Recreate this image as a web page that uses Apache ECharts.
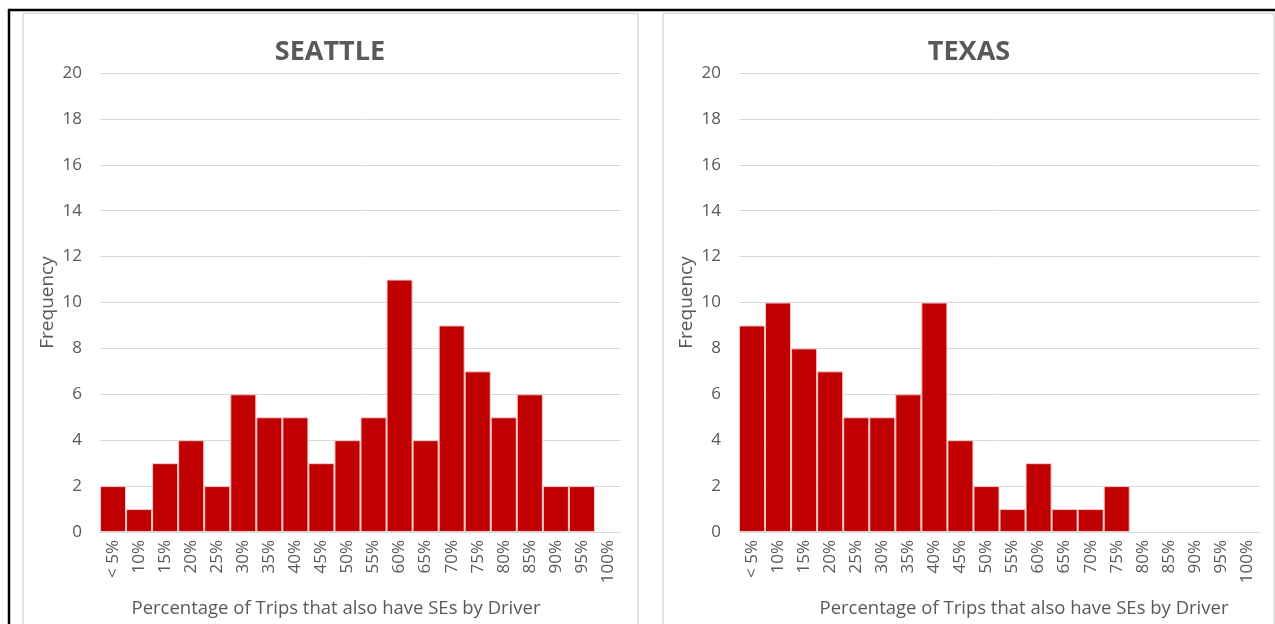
<!DOCTYPE html>
<html>
<head>
<meta charset="utf-8">
<script src="https://cdn.jsdelivr.net/npm/echarts@6/dist/echarts.min.js"></script>
<style>
	html, body { margin: 0; padding: 0; background: #ffffff; }
	#chart { width: 1275px; height: 624px; }
</style>
</head>
<body>
<div id="chart"></div>
<script>
// 数据
const bins = ['< 5%', '10%', '15%', '20%', '25%', '30%', '35%', '40%', '45%', '50%',
	'55%', '60%', '65%', '70%', '75%', '80%', '85%', '90%', '95%', '100%'];
const seattleFreq = [2, 1, 3, 4, 2, 6, 5, 5, 3, 4, 5, 11, 4, 9, 7, 5, 6, 2, 2, 0];
const texasFreq = [9, 10, 8, 7, 5, 5, 6, 10, 4, 2, 1, 3, 1, 1, 2, 0, 0, 0, 0, 0];
const panelTitles = ['SEATTLE', 'TEXAS'];
const xTitle = 'Percentage of Trips that also have SEs by Driver';
const yTitle = 'Frequency';

const textColor = '#595959';
const gridColor = '#d9d9d9';
const barColor = '#c00000';
const font = '"Open Sans", "Noto Sans", sans-serif';

const grids = [
	{ left: 100, top: 73, width: 521, height: 459 },
	{ left: 739, top: 73, width: 521, height: 459 }
];

const makeX = (i) => ({
	type: 'category',
	gridIndex: i,
	data: bins,
	axisLine: { show: true, lineStyle: { color: gridColor, width: 1 } },
	axisTick: { show: false },
	axisLabel: {
		rotate: 90,
		interval: 0,
		margin: 8,
		color: textColor,
		fontSize: 17,
		fontFamily: font
	}
});

const makeY = (i) => ({
	type: 'value',
	gridIndex: i,
	min: 0,
	max: 20,
	interval: 2,
	name: yTitle,
	nameLocation: 'middle',
	nameGap: 43,
	nameTextStyle: { color: textColor, fontSize: 19, fontFamily: font },
	axisLine: { show: false },
	axisTick: { show: false },
	axisLabel: { color: textColor, fontSize: 17, fontFamily: font, margin: 18 },
	splitLine: { lineStyle: { color: gridColor, width: 1 } }
});

// 0 值不画边框
const makeBar = (i, values) => ({
	type: 'bar',
	xAxisIndex: i,
	yAxisIndex: i,
	data: values.map(v => ({ value: v, itemStyle: v ? {} : { borderWidth: 0 } })),
	barCategoryGap: '0%',
	itemStyle: {
		color: barColor,
		borderColor: '#f4caca',
		borderWidth: 1
	},
	silent: true
});

const option = {
	animation: false,
	backgroundColor: '#ffffff',
	grid: grids,
	xAxis: [makeX(0), makeX(1)],
	yAxis: [makeY(0), makeY(1)],
	series: [makeBar(0, seattleFreq), makeBar(1, texasFreq)],
	graphic: [
		// 外框
		{ type: 'line', shape: { x1: 8, y1: 10, x2: 1275, y2: 10 }, style: { stroke: '#000', lineWidth: 2.5 } },
		{ type: 'line', shape: { x1: 9, y1: 9, x2: 9, y2: 624 }, style: { stroke: '#000', lineWidth: 2.5 } },
		{ type: 'rect', shape: { x: 23, y: 13.5, width: 615, height: 640 }, style: { fill: 'none', stroke: gridColor, lineWidth: 1.5 } },
		{ type: 'rect', shape: { x: 663, y: 13.5, width: 611, height: 640 }, style: { fill: 'none', stroke: gridColor, lineWidth: 1.5 } },
		// 标题
		{ type: 'text', x: 330, y: 52, style: { text: panelTitles[0], fill: textColor, font: 'bold 27px ' + font, align: 'center', verticalAlign: 'middle' } },
		{ type: 'text', x: 969, y: 52, style: { text: panelTitles[1], fill: textColor, font: 'bold 27px ' + font, align: 'center', verticalAlign: 'middle' } },
		// x轴标题
		{ type: 'text', x: 336, y: 609, style: { text: xTitle, fill: textColor, font: '18.5px ' + font, align: 'center', verticalAlign: 'middle' } },
		{ type: 'text', x: 1024, y: 609, style: { text: xTitle, fill: textColor, font: '18.5px ' + font, align: 'center', verticalAlign: 'middle' } }
	]
};

const chart = echarts.init(document.getElementById('chart'));
chart.setOption(option);
</script>
</body>
</html>
